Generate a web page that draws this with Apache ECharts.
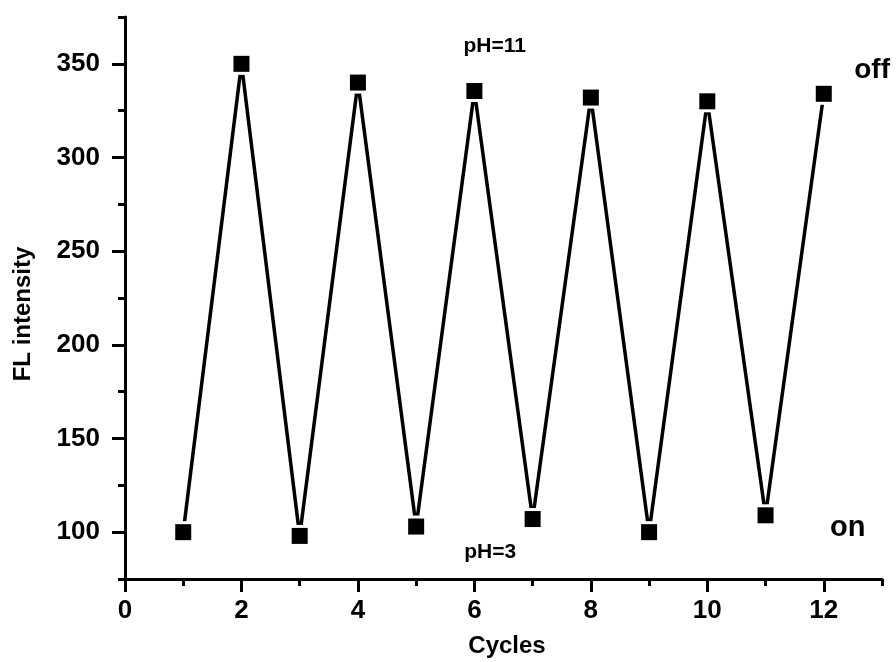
<!DOCTYPE html>
<html>
<head>
<meta charset="utf-8">
<script src="https://cdn.jsdelivr.net/npm/echarts@6/dist/echarts.min.js"></script>
<style>html,body{margin:0;padding:0;background:#fff}#c{width:896px;height:662px}</style>
</head>
<body>
<div id="c"></div>
<script>
var cycles = [1,2,3,4,5,6,7,8,9,10,11,12];
var intensity = [100,350,98,340,103,335.5,107,332,100,330,109,334];
var xMajorTicks = [0,2,4,6,8,10,12];
var xMinorTicks = [1,3,5,7,9,11,13];
var yMajorTicks = [100,150,200,250,300,350];
var yMinorTicks = [75,125,175,225,275,325,375];
var annotations = [
  {x: 6.35, y: 359.5, text: 'pH=11', size: 21},
  {x: 6.27, y: 89.4, text: 'pH=3', size: 21},
  {x: 12.83, y: 346.5, text: 'off', size: 28},
  {x: 12.41, y: 102.2, text: 'on', size: 29}
];

var FONT = '"Liberation Sans", Arial, sans-serif';
var pts = cycles.map(function(c,i){return [c, intensity[i]];});
var chart = echarts.init(document.getElementById('c'));

function xAxisDef(ticks, len, labels, line) {
  return {
    type: 'value', min: 0, max: 13, position: 'bottom',
    axisLine: {show: line, onZero: false, lineStyle: {color: '#000', width: 3}},
    axisTick: {show: true, customValues: ticks, length: len, lineStyle: {color: '#000', width: 3}},
    axisLabel: {show: labels, customValues: ticks, margin: 19, color: '#000', fontSize: 26, fontWeight: 'bold', fontFamily: FONT},
    splitLine: {show: false}
  };
}
function yAxisDef(ticks, len, labels, line) {
  return {
    type: 'value', min: 75, max: 375, position: 'left',
    axisLine: {show: line, onZero: false, lineStyle: {color: '#000', width: 3}},
    axisTick: {show: true, customValues: ticks, length: len, lineStyle: {color: '#000', width: 3}},
    axisLabel: {show: labels, customValues: ticks, margin: 25, color: '#000', fontSize: 26, fontWeight: 'bold', fontFamily: FONT},
    splitLine: {show: false}
  };
}

chart.setOption({
  animation: false,
  backgroundColor: '#fff',
  grid: {left: 125, right: 14, top: 17, bottom: 83, containLabel: false},
  xAxis: [xAxisDef(xMajorTicks, 13, true, true), xAxisDef(xMinorTicks, 7, false, false)],
  yAxis: [yAxisDef(yMajorTicks, 13, true, true), yAxisDef(yMinorTicks, 7, false, false)],
  graphic: [
    {type: 'text', position: [507, 646], style: {text: 'Cycles', fill: '#000', font: 'bold 24px ' + FONT, textAlign: 'center', textVerticalAlign: 'middle'}},
    {type: 'text', rotation: Math.PI/2, position: [23, 314], style: {text: 'FL intensity', fill: '#000', font: 'bold 24px ' + FONT, textAlign: 'center', textVerticalAlign: 'middle'}}
  ],
  series: [
    {type: 'line', data: pts, xAxisIndex: 0, yAxisIndex: 0, showSymbol: false, symbol: 'none',
     lineStyle: {color: '#000', width: 3.5, join: 'round', opacity: 1}, z: 2},
    {type: 'scatter', data: pts, xAxisIndex: 0, yAxisIndex: 0, symbol: 'rect', symbolSize: 22,
     itemStyle: {color: '#fff', opacity: 1}, z: 3, silent: true},
    {type: 'scatter', data: pts, xAxisIndex: 0, yAxisIndex: 0, symbol: 'rect', symbolSize: 16,
     itemStyle: {color: '#000', opacity: 1}, z: 4},
    {type: 'scatter', xAxisIndex: 0, yAxisIndex: 0, symbolSize: 0, z: 5, itemStyle: {opacity: 1},
     data: annotations.map(function(a){return {value: [a.x, a.y], label: {show: true, position: 'inside', formatter: a.text,
       color: '#000', fontWeight: 'bold', fontFamily: FONT, fontSize: a.size}};})}
  ]
});
</script>
</body>
</html>
